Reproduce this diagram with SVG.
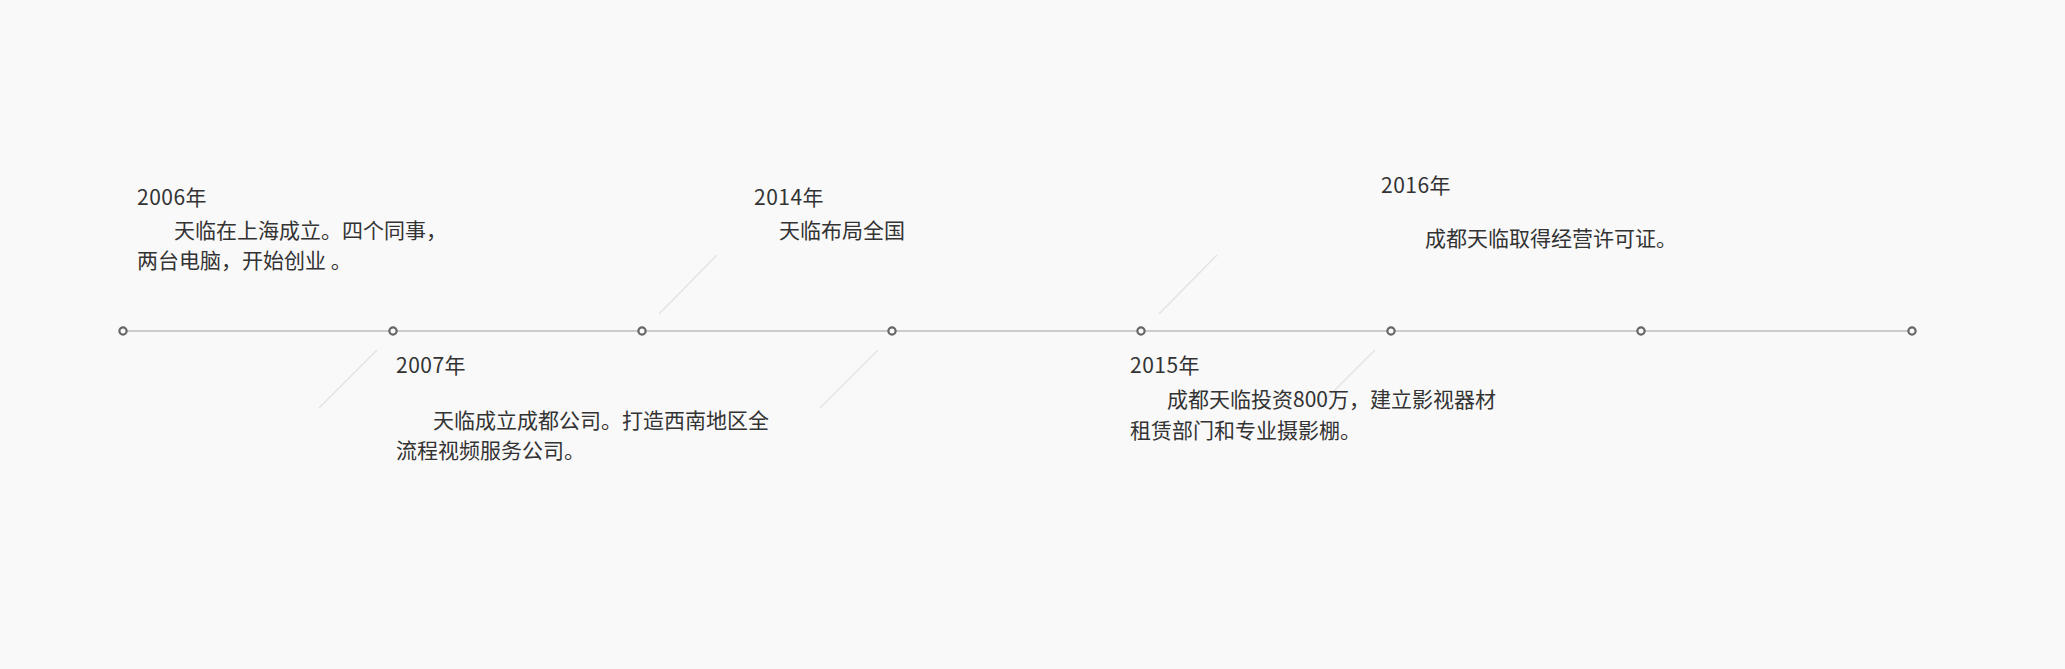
<svg xmlns="http://www.w3.org/2000/svg" width="2065" height="669" viewBox="0 0 2065 669">
<style>
.bg{fill:#f9f9f9}
.axis{stroke:#cccccc;stroke-width:2;fill:none}
.dot{fill:#f9f9f9;stroke:#666666;stroke-width:2.2}
.diag{stroke:#e3e3e3;stroke-width:1.5;fill:none}
text{font-family:"Noto Sans CJK SC","Noto Sans",sans-serif;font-size:21px;fill:#333333}
.yr{letter-spacing:0.5px}
</style>
<rect class="bg" x="0" y="0" width="2065" height="669"/>
<g id="connectors">
<line class="axis" x1="123" y1="331" x2="1912" y2="331"/>
<line class="diag" x1="377" y1="350" x2="319" y2="408"/>
<line class="diag" x1="717" y1="255" x2="659" y2="314"/>
<line class="diag" x1="878" y1="350" x2="820" y2="408"/>
<line class="diag" x1="1217" y1="255" x2="1159" y2="314"/>
<line class="diag" x1="1375" y1="350" x2="1317" y2="408"/>
</g>
<g id="dots">
<circle class="dot" cx="123" cy="331" r="3.6"/>
<circle class="dot" cx="393" cy="331" r="3.6"/>
<circle class="dot" cx="642" cy="331" r="3.6"/>
<circle class="dot" cx="892" cy="331" r="3.6"/>
<circle class="dot" cx="1141" cy="331" r="3.6"/>
<circle class="dot" cx="1391" cy="331" r="3.6"/>
<circle class="dot" cx="1641" cy="331" r="3.6"/>
<circle class="dot" cx="1912" cy="331" r="3.6"/>
</g>
<g id="event-2006">
<text class="yr" x="137" y="205">2006年</text>
<text x="174" y="238">天临在上海成立。四个同事，</text>
<text x="137" y="268">两台电脑，开始创业 。</text>
</g>
<g id="event-2007">
<text class="yr" x="396" y="373">2007年</text>
<text x="433" y="428">天临成立成都公司。打造西南地区全</text>
<text x="396" y="458">流程视频服务公司。</text>
</g>
<g id="event-2014">
<text class="yr" x="754" y="205">2014年</text>
<text x="779" y="238">天临布局全国</text>
</g>
<g id="event-2015">
<text class="yr" x="1130" y="373">2015年</text>
<text x="1167" y="407">成都天临投资800万，建立影视器材</text>
<text x="1130" y="438">租赁部门和专业摄影棚。</text>
</g>
<g id="event-2016">
<text class="yr" x="1381" y="193">2016年</text>
<text x="1425" y="246">成都天临取得经营许可证。</text>
</g>
</svg>
